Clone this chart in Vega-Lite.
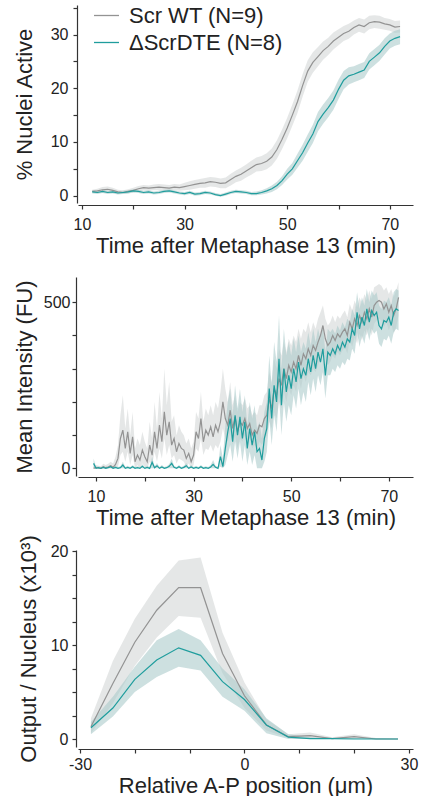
{
"$schema": "https://vega.github.io/schema/vega-lite/v6.json",
"padding": {"left": 13, "top": -1, "right": 5, "bottom": 0},
"spacing": 74,
"bounds": "flush",
"config": {
 "font": "Liberation Sans",
 "view": {"stroke": null},
 "axis": {"domainColor": "#333", "domainWidth": 1.2, "tickColor": "#333", "tickWidth": 1.2, "tickSize": 4, "labelFontSize": 16, "labelColor": "#222", "titleFontSize": 22, "titleFontWeight": "normal", "titleColor": "#222", "grid": false, "labelFlush": false, "labelOverlap": false, "labelFont": "Liberation Sans", "titleFont": "Liberation Sans"}
},
"resolve": {"scale": {"color": "independent"}, "legend": {"color": "independent"}},
"datasets": {
"p1": [
{"t":12,"g":"WT","m":0.8,"lo":0.5,"hi":1.1},{"t":13,"g":"WT","m":0.9,"lo":0.5,"hi":1.3},{"t":14,"g":"WT","m":1.1,"lo":0.6,"hi":1.6},{"t":15,"g":"WT","m":1.2,"lo":0.7,"hi":1.7},{"t":16,"g":"WT","m":1.0,"lo":0.5,"hi":1.5},{"t":17,"g":"WT","m":0.7,"lo":0.3,"hi":1.1},{"t":18,"g":"WT","m":0.6,"lo":0.3,"hi":1.0},{"t":19,"g":"WT","m":0.8,"lo":0.4,"hi":1.2},{"t":20,"g":"WT","m":1.0,"lo":0.6,"hi":1.5},{"t":21,"g":"WT","m":1.3,"lo":0.8,"hi":1.8},{"t":22,"g":"WT","m":1.5,"lo":1.0,"hi":2.0},{"t":23,"g":"WT","m":1.4,"lo":0.9,"hi":1.9},{"t":24,"g":"WT","m":1.5,"lo":1.0,"hi":2.1},{"t":25,"g":"WT","m":1.6,"lo":1.0,"hi":2.2},{"t":26,"g":"WT","m":1.5,"lo":0.9,"hi":2.1},{"t":27,"g":"WT","m":1.4,"lo":0.8,"hi":2.0},{"t":28,"g":"WT","m":1.6,"lo":1.0,"hi":2.2},{"t":29,"g":"WT","m":1.5,"lo":0.9,"hi":2.1},{"t":30,"g":"WT","m":1.7,"lo":1.0,"hi":2.4},{"t":31,"g":"WT","m":1.9,"lo":1.1,"hi":2.7},{"t":32,"g":"WT","m":2.1,"lo":1.3,"hi":2.9},{"t":33,"g":"WT","m":2.3,"lo":1.5,"hi":3.1},{"t":34,"g":"WT","m":2.4,"lo":1.5,"hi":3.3},{"t":35,"g":"WT","m":2.6,"lo":1.7,"hi":3.5},{"t":36,"g":"WT","m":2.5,"lo":1.6,"hi":3.4},{"t":37,"g":"WT","m":2.3,"lo":1.4,"hi":3.2},{"t":38,"g":"WT","m":2.4,"lo":1.4,"hi":3.4},{"t":39,"g":"WT","m":3.0,"lo":1.9,"hi":4.1},{"t":40,"g":"WT","m":3.6,"lo":2.5,"hi":4.7},{"t":41,"g":"WT","m":4.0,"lo":2.8,"hi":5.2},{"t":42,"g":"WT","m":4.6,"lo":3.4,"hi":5.8},{"t":43,"g":"WT","m":5.2,"lo":3.9,"hi":6.5},{"t":44,"g":"WT","m":5.8,"lo":4.5,"hi":7.1},{"t":45,"g":"WT","m":6.0,"lo":4.6,"hi":7.4},{"t":46,"g":"WT","m":6.4,"lo":4.9,"hi":7.9},{"t":47,"g":"WT","m":7.2,"lo":5.6,"hi":8.8},{"t":48,"g":"WT","m":8.6,"lo":6.9,"hi":10.3},{"t":49,"g":"WT","m":10.5,"lo":8.7,"hi":12.3},{"t":50,"g":"WT","m":12.6,"lo":10.7,"hi":14.5},{"t":51,"g":"WT","m":15.0,"lo":13.0,"hi":17.0},{"t":52,"g":"WT","m":17.5,"lo":15.4,"hi":19.6},{"t":53,"g":"WT","m":20.5,"lo":18.4,"hi":22.6},{"t":54,"g":"WT","m":23.2,"lo":21.2,"hi":25.2},{"t":55,"g":"WT","m":24.8,"lo":22.9,"hi":26.7},{"t":56,"g":"WT","m":25.9,"lo":24.1,"hi":27.7},{"t":57,"g":"WT","m":27.0,"lo":25.3,"hi":28.7},{"t":58,"g":"WT","m":27.8,"lo":26.2,"hi":29.4},{"t":59,"g":"WT","m":28.8,"lo":27.2,"hi":30.4},{"t":60,"g":"WT","m":29.5,"lo":28.0,"hi":31.0},{"t":61,"g":"WT","m":30.2,"lo":28.8,"hi":31.6},{"t":62,"g":"WT","m":30.6,"lo":29.2,"hi":32.0},{"t":63,"g":"WT","m":31.3,"lo":30.0,"hi":32.6},{"t":64,"g":"WT","m":31.8,"lo":30.5,"hi":33.1},{"t":65,"g":"WT","m":31.5,"lo":30.2,"hi":32.8},{"t":66,"g":"WT","m":32.2,"lo":31.0,"hi":33.5},{"t":67,"g":"WT","m":32.4,"lo":31.2,"hi":33.6},{"t":68,"g":"WT","m":32.3,"lo":31.1,"hi":33.5},{"t":69,"g":"WT","m":32.0,"lo":30.9,"hi":33.1},{"t":70,"g":"WT","m":31.8,"lo":30.7,"hi":32.9},{"t":71,"g":"WT","m":31.4,"lo":30.3,"hi":32.5},{"t":72,"g":"WT","m":31.5,"lo":30.4,"hi":32.6},
{"t":12,"g":"DTE","m":0.7,"lo":0.4,"hi":1.0},{"t":13,"g":"DTE","m":0.6,"lo":0.3,"hi":0.9},{"t":14,"g":"DTE","m":0.8,"lo":0.5,"hi":1.1},{"t":15,"g":"DTE","m":0.6,"lo":0.3,"hi":0.9},{"t":16,"g":"DTE","m":0.7,"lo":0.4,"hi":1.0},{"t":17,"g":"DTE","m":0.5,"lo":0.2,"hi":0.8},{"t":18,"g":"DTE","m":0.6,"lo":0.3,"hi":0.9},{"t":19,"g":"DTE","m":0.7,"lo":0.4,"hi":1.0},{"t":20,"g":"DTE","m":0.9,"lo":0.6,"hi":1.2},{"t":21,"g":"DTE","m":0.8,"lo":0.5,"hi":1.1},{"t":22,"g":"DTE","m":0.6,"lo":0.3,"hi":0.9},{"t":23,"g":"DTE","m":0.7,"lo":0.4,"hi":1.0},{"t":24,"g":"DTE","m":0.5,"lo":0.2,"hi":0.8},{"t":25,"g":"DTE","m":0.6,"lo":0.3,"hi":0.9},{"t":26,"g":"DTE","m":0.8,"lo":0.5,"hi":1.1},{"t":27,"g":"DTE","m":0.9,"lo":0.6,"hi":1.2},{"t":28,"g":"DTE","m":0.7,"lo":0.4,"hi":1.0},{"t":29,"g":"DTE","m":0.5,"lo":0.2,"hi":0.8},{"t":30,"g":"DTE","m":0.4,"lo":0.1,"hi":0.7},{"t":31,"g":"DTE","m":0.6,"lo":0.3,"hi":0.9},{"t":32,"g":"DTE","m":0.3,"lo":0.0,"hi":0.6},{"t":33,"g":"DTE","m":0.4,"lo":0.1,"hi":0.7},{"t":34,"g":"DTE","m":0.6,"lo":0.3,"hi":0.9},{"t":35,"g":"DTE","m":0.5,"lo":0.2,"hi":0.8},{"t":36,"g":"DTE","m":0.2,"lo":0.0,"hi":0.5},{"t":37,"g":"DTE","m":0.0,"lo":-0.2,"hi":0.3},{"t":38,"g":"DTE","m":0.3,"lo":0.0,"hi":0.6},{"t":39,"g":"DTE","m":0.6,"lo":0.3,"hi":0.9},{"t":40,"g":"DTE","m":0.8,"lo":0.5,"hi":1.1},{"t":41,"g":"DTE","m":0.7,"lo":0.4,"hi":1.0},{"t":42,"g":"DTE","m":0.6,"lo":0.3,"hi":0.9},{"t":43,"g":"DTE","m":0.4,"lo":0.1,"hi":0.7},{"t":44,"g":"DTE","m":0.4,"lo":0.1,"hi":0.8},{"t":45,"g":"DTE","m":0.6,"lo":0.2,"hi":1.0},{"t":46,"g":"DTE","m":0.9,"lo":0.4,"hi":1.4},{"t":47,"g":"DTE","m":1.3,"lo":0.7,"hi":1.9},{"t":48,"g":"DTE","m":1.9,"lo":1.2,"hi":2.6},{"t":49,"g":"DTE","m":2.8,"lo":2.0,"hi":3.6},{"t":50,"g":"DTE","m":4.0,"lo":3.0,"hi":5.0},{"t":51,"g":"DTE","m":5.0,"lo":3.9,"hi":6.1},{"t":52,"g":"DTE","m":6.5,"lo":5.2,"hi":7.8},{"t":53,"g":"DTE","m":8.0,"lo":6.5,"hi":9.5},{"t":54,"g":"DTE","m":9.8,"lo":8.2,"hi":11.4},{"t":55,"g":"DTE","m":11.5,"lo":9.8,"hi":13.2},{"t":56,"g":"DTE","m":13.8,"lo":12.0,"hi":15.6},{"t":57,"g":"DTE","m":15.2,"lo":13.4,"hi":17.0},{"t":58,"g":"DTE","m":16.4,"lo":14.6,"hi":18.2},{"t":59,"g":"DTE","m":17.8,"lo":16.0,"hi":19.6},{"t":60,"g":"DTE","m":19.8,"lo":18.0,"hi":21.6},{"t":61,"g":"DTE","m":21.5,"lo":19.8,"hi":23.2},{"t":62,"g":"DTE","m":22.3,"lo":20.7,"hi":23.9},{"t":63,"g":"DTE","m":22.6,"lo":21.1,"hi":24.1},{"t":64,"g":"DTE","m":23.0,"lo":21.5,"hi":24.5},{"t":65,"g":"DTE","m":23.4,"lo":21.9,"hi":24.9},{"t":66,"g":"DTE","m":25.0,"lo":23.5,"hi":26.5},{"t":67,"g":"DTE","m":25.8,"lo":24.3,"hi":27.3},{"t":68,"g":"DTE","m":26.6,"lo":25.1,"hi":28.1},{"t":69,"g":"DTE","m":27.8,"lo":26.3,"hi":29.3},{"t":70,"g":"DTE","m":28.8,"lo":27.4,"hi":30.2},{"t":71,"g":"DTE","m":29.3,"lo":27.9,"hi":30.7},{"t":72,"g":"DTE","m":29.6,"lo":28.2,"hi":31.0}
],
"p2": [
{"t":9.5,"g":"WT","m":0,"lo":0,"hi":8},{"t":10,"g":"WT","m":3,"lo":0,"hi":10},{"t":10.5,"g":"WT","m":1,"lo":0,"hi":8},{"t":11,"g":"WT","m":0,"lo":0,"hi":6},{"t":11.5,"g":"WT","m":5,"lo":0,"hi":14},{"t":12,"g":"WT","m":2,"lo":0,"hi":10},{"t":12.5,"g":"WT","m":4,"lo":0,"hi":14},{"t":13,"g":"WT","m":8,"lo":0,"hi":20},{"t":13.5,"g":"WT","m":3,"lo":0,"hi":15},{"t":14,"g":"WT","m":12,"lo":0,"hi":35},{"t":14.5,"g":"WT","m":30,"lo":5,"hi":70},{"t":15,"g":"WT","m":90,"lo":40,"hi":160},{"t":15.5,"g":"WT","m":115,"lo":50,"hi":220},{"t":16,"g":"WT","m":60,"lo":20,"hi":120},{"t":16.5,"g":"WT","m":110,"lo":50,"hi":180},{"t":17,"g":"WT","m":45,"lo":10,"hi":100},{"t":17.5,"g":"WT","m":95,"lo":40,"hi":170},{"t":18,"g":"WT","m":20,"lo":0,"hi":60},{"t":18.5,"g":"WT","m":40,"lo":10,"hi":90},{"t":19,"g":"WT","m":25,"lo":0,"hi":70},{"t":19.5,"g":"WT","m":55,"lo":15,"hi":110},{"t":20,"g":"WT","m":35,"lo":5,"hi":80},{"t":20.5,"g":"WT","m":20,"lo":0,"hi":60},{"t":21,"g":"WT","m":70,"lo":20,"hi":140},{"t":21.5,"g":"WT","m":40,"lo":10,"hi":90},{"t":22,"g":"WT","m":110,"lo":50,"hi":200},{"t":22.5,"g":"WT","m":60,"lo":20,"hi":120},{"t":23,"g":"WT","m":130,"lo":60,"hi":230},{"t":23.5,"g":"WT","m":80,"lo":30,"hi":150},{"t":24,"g":"WT","m":170,"lo":90,"hi":300},{"t":24.5,"g":"WT","m":100,"lo":40,"hi":190},{"t":25,"g":"WT","m":140,"lo":70,"hi":260},{"t":25.5,"g":"WT","m":70,"lo":30,"hi":140},{"t":26,"g":"WT","m":90,"lo":40,"hi":160},{"t":26.5,"g":"WT","m":50,"lo":15,"hi":100},{"t":27,"g":"WT","m":75,"lo":30,"hi":130},{"t":27.5,"g":"WT","m":60,"lo":25,"hi":110},{"t":28,"g":"WT","m":55,"lo":20,"hi":100},{"t":28.5,"g":"WT","m":30,"lo":5,"hi":75},{"t":29,"g":"WT","m":45,"lo":15,"hi":90},{"t":29.5,"g":"WT","m":20,"lo":0,"hi":60},{"t":30,"g":"WT","m":40,"lo":10,"hi":80},{"t":30.5,"g":"WT","m":110,"lo":60,"hi":170},{"t":31,"g":"WT","m":90,"lo":50,"hi":150},{"t":31.5,"g":"WT","m":150,"lo":90,"hi":230},{"t":32,"g":"WT","m":80,"lo":40,"hi":140},{"t":32.5,"g":"WT","m":115,"lo":60,"hi":180},{"t":33,"g":"WT","m":100,"lo":55,"hi":160},{"t":33.5,"g":"WT","m":125,"lo":70,"hi":190},{"t":34,"g":"WT","m":95,"lo":50,"hi":160},{"t":34.5,"g":"WT","m":130,"lo":70,"hi":200},{"t":35,"g":"WT","m":110,"lo":60,"hi":180},{"t":35.5,"g":"WT","m":140,"lo":80,"hi":230},{"t":36,"g":"WT","m":200,"lo":120,"hi":300},{"t":36.5,"g":"WT","m":150,"lo":90,"hi":240},{"t":37,"g":"WT","m":130,"lo":80,"hi":200},{"t":37.5,"g":"WT","m":175,"lo":110,"hi":260},{"t":38,"g":"WT","m":120,"lo":70,"hi":190},{"t":38.5,"g":"WT","m":155,"lo":100,"hi":220},{"t":39,"g":"WT","m":110,"lo":60,"hi":170},{"t":39.5,"g":"WT","m":140,"lo":90,"hi":200},{"t":40,"g":"WT","m":130,"lo":80,"hi":190},{"t":40.5,"g":"WT","m":150,"lo":100,"hi":210},{"t":41,"g":"WT","m":120,"lo":70,"hi":180},{"t":41.5,"g":"WT","m":135,"lo":90,"hi":190},{"t":42,"g":"WT","m":100,"lo":60,"hi":160},{"t":42.5,"g":"WT","m":115,"lo":70,"hi":170},{"t":43,"g":"WT","m":105,"lo":60,"hi":160},{"t":43.5,"g":"WT","m":130,"lo":80,"hi":190},{"t":44,"g":"WT","m":125,"lo":70,"hi":190},{"t":44.5,"g":"WT","m":150,"lo":90,"hi":220},{"t":45,"g":"WT","m":160,"lo":100,"hi":230},{"t":45.5,"g":"WT","m":210,"lo":140,"hi":290},{"t":46,"g":"WT","m":180,"lo":120,"hi":260},{"t":46.5,"g":"WT","m":240,"lo":170,"hi":330},{"t":47,"g":"WT","m":220,"lo":150,"hi":300},{"t":47.5,"g":"WT","m":270,"lo":200,"hi":360},{"t":48,"g":"WT","m":250,"lo":180,"hi":340},{"t":48.5,"g":"WT","m":300,"lo":230,"hi":380},{"t":49,"g":"WT","m":270,"lo":200,"hi":350},{"t":49.5,"g":"WT","m":310,"lo":240,"hi":390},{"t":50,"g":"WT","m":290,"lo":220,"hi":370},{"t":50.5,"g":"WT","m":320,"lo":250,"hi":400},{"t":51,"g":"WT","m":300,"lo":230,"hi":380},{"t":51.5,"g":"WT","m":340,"lo":270,"hi":420},{"t":52,"g":"WT","m":310,"lo":240,"hi":390},{"t":52.5,"g":"WT","m":345,"lo":280,"hi":420},{"t":53,"g":"WT","m":330,"lo":260,"hi":410},{"t":53.5,"g":"WT","m":360,"lo":290,"hi":440},{"t":54,"g":"WT","m":340,"lo":280,"hi":410},{"t":54.5,"g":"WT","m":370,"lo":300,"hi":440},{"t":55,"g":"WT","m":355,"lo":290,"hi":420},{"t":55.5,"g":"WT","m":380,"lo":310,"hi":450},{"t":56,"g":"WT","m":400,"lo":330,"hi":470},{"t":56.5,"g":"WT","m":430,"lo":360,"hi":490},{"t":57,"g":"WT","m":390,"lo":330,"hi":450},{"t":57.5,"g":"WT","m":370,"lo":310,"hi":430},{"t":58,"g":"WT","m":380,"lo":320,"hi":440},{"t":58.5,"g":"WT","m":400,"lo":340,"hi":460},{"t":59,"g":"WT","m":385,"lo":330,"hi":440},{"t":59.5,"g":"WT","m":405,"lo":350,"hi":460},{"t":60,"g":"WT","m":395,"lo":340,"hi":450},{"t":60.5,"g":"WT","m":410,"lo":355,"hi":465},{"t":61,"g":"WT","m":420,"lo":365,"hi":475},{"t":61.5,"g":"WT","m":400,"lo":345,"hi":455},{"t":62,"g":"WT","m":440,"lo":385,"hi":495},{"t":62.5,"g":"WT","m":420,"lo":365,"hi":475},{"t":63,"g":"WT","m":450,"lo":395,"hi":505},{"t":63.5,"g":"WT","m":430,"lo":375,"hi":485},{"t":64,"g":"WT","m":460,"lo":405,"hi":515},{"t":64.5,"g":"WT","m":440,"lo":385,"hi":495},{"t":65,"g":"WT","m":470,"lo":415,"hi":525},{"t":65.5,"g":"WT","m":450,"lo":400,"hi":505},{"t":66,"g":"WT","m":480,"lo":425,"hi":535},{"t":66.5,"g":"WT","m":455,"lo":400,"hi":510},{"t":67,"g":"WT","m":490,"lo":435,"hi":545},{"t":67.5,"g":"WT","m":500,"lo":445,"hi":550},{"t":68,"g":"WT","m":505,"lo":450,"hi":555},{"t":68.5,"g":"WT","m":500,"lo":445,"hi":550},{"t":69,"g":"WT","m":480,"lo":425,"hi":535},{"t":69.5,"g":"WT","m":495,"lo":440,"hi":545},{"t":70,"g":"WT","m":470,"lo":415,"hi":525},{"t":70.5,"g":"WT","m":490,"lo":435,"hi":540},{"t":71,"g":"WT","m":460,"lo":405,"hi":515},{"t":71.5,"g":"WT","m":480,"lo":425,"hi":535},{"t":72,"g":"WT","m":515,"lo":460,"hi":560},
{"t":9.5,"g":"DTE","m":15,"lo":0,"hi":30},{"t":10,"g":"DTE","m":0,"lo":0,"hi":5},{"t":10.5,"g":"DTE","m":2,"lo":0,"hi":6},{"t":11,"g":"DTE","m":0,"lo":0,"hi":4},{"t":11.5,"g":"DTE","m":3,"lo":0,"hi":8},{"t":12,"g":"DTE","m":0,"lo":0,"hi":4},{"t":12.5,"g":"DTE","m":2,"lo":0,"hi":6},{"t":13,"g":"DTE","m":5,"lo":0,"hi":10},{"t":13.5,"g":"DTE","m":0,"lo":0,"hi":4},{"t":14,"g":"DTE","m":3,"lo":0,"hi":8},{"t":14.5,"g":"DTE","m":0,"lo":0,"hi":4},{"t":15,"g":"DTE","m":2,"lo":0,"hi":6},{"t":15.5,"g":"DTE","m":10,"lo":0,"hi":20},{"t":16,"g":"DTE","m":0,"lo":0,"hi":4},{"t":16.5,"g":"DTE","m":3,"lo":0,"hi":8},{"t":17,"g":"DTE","m":0,"lo":0,"hi":4},{"t":17.5,"g":"DTE","m":5,"lo":0,"hi":10},{"t":18,"g":"DTE","m":0,"lo":0,"hi":4},{"t":18.5,"g":"DTE","m":2,"lo":0,"hi":6},{"t":19,"g":"DTE","m":0,"lo":0,"hi":4},{"t":19.5,"g":"DTE","m":6,"lo":0,"hi":12},{"t":20,"g":"DTE","m":0,"lo":0,"hi":4},{"t":20.5,"g":"DTE","m":3,"lo":0,"hi":8},{"t":21,"g":"DTE","m":0,"lo":0,"hi":4},{"t":21.5,"g":"DTE","m":18,"lo":0,"hi":35},{"t":22,"g":"DTE","m":2,"lo":0,"hi":6},{"t":22.5,"g":"DTE","m":8,"lo":0,"hi":16},{"t":23,"g":"DTE","m":0,"lo":0,"hi":4},{"t":23.5,"g":"DTE","m":4,"lo":0,"hi":10},{"t":24,"g":"DTE","m":0,"lo":0,"hi":4},{"t":24.5,"g":"DTE","m":2,"lo":0,"hi":6},{"t":25,"g":"DTE","m":6,"lo":0,"hi":12},{"t":25.5,"g":"DTE","m":15,"lo":0,"hi":30},{"t":26,"g":"DTE","m":3,"lo":0,"hi":8},{"t":26.5,"g":"DTE","m":0,"lo":0,"hi":4},{"t":27,"g":"DTE","m":5,"lo":0,"hi":10},{"t":27.5,"g":"DTE","m":0,"lo":0,"hi":4},{"t":28,"g":"DTE","m":3,"lo":0,"hi":8},{"t":28.5,"g":"DTE","m":8,"lo":0,"hi":16},{"t":29,"g":"DTE","m":0,"lo":0,"hi":4},{"t":29.5,"g":"DTE","m":4,"lo":0,"hi":10},{"t":30,"g":"DTE","m":0,"lo":0,"hi":4},{"t":30.5,"g":"DTE","m":3,"lo":0,"hi":8},{"t":31,"g":"DTE","m":0,"lo":0,"hi":4},{"t":31.5,"g":"DTE","m":5,"lo":0,"hi":10},{"t":32,"g":"DTE","m":0,"lo":0,"hi":4},{"t":32.5,"g":"DTE","m":2,"lo":0,"hi":6},{"t":33,"g":"DTE","m":0,"lo":0,"hi":4},{"t":33.5,"g":"DTE","m":4,"lo":0,"hi":10},{"t":34,"g":"DTE","m":12,"lo":0,"hi":25},{"t":34.5,"g":"DTE","m":3,"lo":0,"hi":8},{"t":35,"g":"DTE","m":0,"lo":0,"hi":5},{"t":35.5,"g":"DTE","m":35,"lo":5,"hi":70},{"t":36,"g":"DTE","m":5,"lo":0,"hi":30},{"t":36.5,"g":"DTE","m":60,"lo":10,"hi":130},{"t":37,"g":"DTE","m":110,"lo":40,"hi":200},{"t":37.5,"g":"DTE","m":150,"lo":70,"hi":240},{"t":38,"g":"DTE","m":80,"lo":20,"hi":160},{"t":38.5,"g":"DTE","m":160,"lo":80,"hi":250},{"t":39,"g":"DTE","m":100,"lo":30,"hi":180},{"t":39.5,"g":"DTE","m":155,"lo":80,"hi":240},{"t":40,"g":"DTE","m":90,"lo":20,"hi":170},{"t":40.5,"g":"DTE","m":140,"lo":70,"hi":220},{"t":41,"g":"DTE","m":60,"lo":10,"hi":130},{"t":41.5,"g":"DTE","m":120,"lo":50,"hi":200},{"t":42,"g":"DTE","m":70,"lo":10,"hi":150},{"t":42.5,"g":"DTE","m":110,"lo":40,"hi":190},{"t":43,"g":"DTE","m":50,"lo":0,"hi":120},{"t":43.5,"g":"DTE","m":60,"lo":0,"hi":140},{"t":44,"g":"DTE","m":25,"lo":0,"hi":90},{"t":44.5,"g":"DTE","m":90,"lo":20,"hi":170},{"t":45,"g":"DTE","m":120,"lo":50,"hi":200},{"t":45.5,"g":"DTE","m":240,"lo":150,"hi":340},{"t":46,"g":"DTE","m":150,"lo":70,"hi":250},{"t":46.5,"g":"DTE","m":250,"lo":160,"hi":380},{"t":47,"g":"DTE","m":200,"lo":110,"hi":320},{"t":47.5,"g":"DTE","m":330,"lo":220,"hi":460},{"t":48,"g":"DTE","m":190,"lo":100,"hi":300},{"t":48.5,"g":"DTE","m":300,"lo":200,"hi":420},{"t":49,"g":"DTE","m":230,"lo":140,"hi":340},{"t":49.5,"g":"DTE","m":280,"lo":190,"hi":380},{"t":50,"g":"DTE","m":240,"lo":160,"hi":340},{"t":50.5,"g":"DTE","m":300,"lo":220,"hi":390},{"t":51,"g":"DTE","m":260,"lo":180,"hi":350},{"t":51.5,"g":"DTE","m":320,"lo":240,"hi":400},{"t":52,"g":"DTE","m":270,"lo":190,"hi":350},{"t":52.5,"g":"DTE","m":300,"lo":230,"hi":380},{"t":53,"g":"DTE","m":280,"lo":200,"hi":360},{"t":53.5,"g":"DTE","m":330,"lo":260,"hi":410},{"t":54,"g":"DTE","m":290,"lo":220,"hi":370},{"t":54.5,"g":"DTE","m":340,"lo":270,"hi":420},{"t":55,"g":"DTE","m":300,"lo":230,"hi":380},{"t":55.5,"g":"DTE","m":350,"lo":280,"hi":420},{"t":56,"g":"DTE","m":320,"lo":250,"hi":390},{"t":56.5,"g":"DTE","m":360,"lo":290,"hi":430},{"t":57,"g":"DTE","m":280,"lo":210,"hi":350},{"t":57.5,"g":"DTE","m":350,"lo":280,"hi":420},{"t":58,"g":"DTE","m":340,"lo":280,"hi":410},{"t":58.5,"g":"DTE","m":360,"lo":300,"hi":420},{"t":59,"g":"DTE","m":345,"lo":290,"hi":405},{"t":59.5,"g":"DTE","m":370,"lo":310,"hi":430},{"t":60,"g":"DTE","m":355,"lo":300,"hi":415},{"t":60.5,"g":"DTE","m":380,"lo":320,"hi":440},{"t":61,"g":"DTE","m":365,"lo":310,"hi":425},{"t":61.5,"g":"DTE","m":390,"lo":330,"hi":450},{"t":62,"g":"DTE","m":380,"lo":325,"hi":440},{"t":62.5,"g":"DTE","m":420,"lo":360,"hi":480},{"t":63,"g":"DTE","m":400,"lo":345,"hi":460},{"t":63.5,"g":"DTE","m":470,"lo":410,"hi":530},{"t":64,"g":"DTE","m":420,"lo":365,"hi":480},{"t":64.5,"g":"DTE","m":455,"lo":400,"hi":515},{"t":65,"g":"DTE","m":430,"lo":375,"hi":490},{"t":65.5,"g":"DTE","m":480,"lo":420,"hi":540},{"t":66,"g":"DTE","m":440,"lo":385,"hi":500},{"t":66.5,"g":"DTE","m":475,"lo":420,"hi":535},{"t":67,"g":"DTE","m":460,"lo":405,"hi":520},{"t":67.5,"g":"DTE","m":470,"lo":415,"hi":530},{"t":68,"g":"DTE","m":430,"lo":375,"hi":490},{"t":68.5,"g":"DTE","m":420,"lo":365,"hi":480},{"t":69,"g":"DTE","m":445,"lo":390,"hi":505},{"t":69.5,"g":"DTE","m":440,"lo":385,"hi":500},{"t":70,"g":"DTE","m":455,"lo":400,"hi":515},{"t":70.5,"g":"DTE","m":430,"lo":375,"hi":490},{"t":71,"g":"DTE","m":470,"lo":410,"hi":530},{"t":71.5,"g":"DTE","m":480,"lo":420,"hi":540},{"t":72,"g":"DTE","m":475,"lo":415,"hi":535}
],
"p3": [
{"x":-28,"g":"WT","m":1.3,"lo":0.6,"hi":2.2},{"x":-24,"g":"WT","m":5.9,"lo":3.8,"hi":8.3},{"x":-20,"g":"WT","m":10.3,"lo":7.8,"hi":12.8},{"x":-16,"g":"WT","m":13.7,"lo":10.8,"hi":16.3},{"x":-12,"g":"WT","m":16.1,"lo":13.1,"hi":19.0},{"x":-8,"g":"WT","m":16.1,"lo":12.9,"hi":19.3},{"x":-4,"g":"WT","m":9.1,"lo":7.0,"hi":11.3},{"x":0,"g":"WT","m":4.6,"lo":3.3,"hi":6.0},{"x":4,"g":"WT","m":1.5,"lo":0.9,"hi":2.1},{"x":8,"g":"WT","m":0.25,"lo":0.1,"hi":0.5},{"x":12,"g":"WT","m":0.35,"lo":0.1,"hi":0.7},{"x":16,"g":"WT","m":0.05,"lo":0,"hi":0.2},{"x":20,"g":"WT","m":0.25,"lo":0,"hi":0.5},{"x":24,"g":"WT","m":0,"lo":0,"hi":0.1},{"x":28,"g":"WT","m":0,"lo":0,"hi":0},
{"x":-28,"g":"DTE","m":1.2,"lo":0.5,"hi":1.8},{"x":-24,"g":"DTE","m":3.3,"lo":2.4,"hi":4.5},{"x":-20,"g":"DTE","m":6.35,"lo":5.0,"hi":7.7},{"x":-16,"g":"DTE","m":8.4,"lo":6.6,"hi":10.5},{"x":-12,"g":"DTE","m":9.7,"lo":7.7,"hi":11.7},{"x":-8,"g":"DTE","m":8.9,"lo":7.3,"hi":10.5},{"x":-4,"g":"DTE","m":6.1,"lo":4.5,"hi":7.5},{"x":0,"g":"DTE","m":4.2,"lo":3.0,"hi":5.3},{"x":4,"g":"DTE","m":1.5,"lo":0.6,"hi":2.2},{"x":8,"g":"DTE","m":0.2,"lo":0,"hi":0.5},{"x":12,"g":"DTE","m":0.05,"lo":0,"hi":0.2},{"x":16,"g":"DTE","m":0.05,"lo":0,"hi":0.1},{"x":20,"g":"DTE","m":0,"lo":0,"hi":0.1},{"x":24,"g":"DTE","m":0,"lo":0,"hi":0.05},{"x":28,"g":"DTE","m":0,"lo":0,"hi":0}
]
},
"vconcat": [
{
 "width": 335, "height": 198,
 "data": {"name": "p1"},
 "encoding": {
  "x": {"field": "t", "type": "quantitative", "scale": {"domain": [9.22, 74.52], "nice": false, "zero": false},
    "axis": {"title": "Time after Metaphase 13 (min)", "values": [10,20,30,40,50,60,70], "labelExpr": "datum.value == 10 || datum.value == 30 || datum.value == 50 || datum.value == 70 ? datum.label : ''", "offset": 2, "labelPadding": 7, "titlePadding": 3}},
  "y": {"type": "quantitative", "scale": {"domain": [-1.36, 35.5], "nice": false, "zero": false},
    "axis": {"title": "% Nuclei Active", "values": [0,5,10,15,20,25,30,35], "labelExpr": "datum.value == 0 || datum.value == 10 || datum.value == 20 || datum.value == 30 ? datum.label : ''", "offset": 1, "labelPadding": 5, "titlePadding": 14}}
 },
 "layer": [
  {"transform": [{"filter": "datum.g == 'WT'"}], "mark": {"type": "area", "color": "#d4d7d7", "opacity": 0.6}, "encoding": {"y": {"field": "lo"}, "y2": {"field": "hi"}}},
  {"transform": [{"filter": "datum.g == 'DTE'"}], "mark": {"type": "area", "color": "#abcbcb", "opacity": 0.6}, "encoding": {"y": {"field": "lo"}, "y2": {"field": "hi"}}},
  {"mark": {"type": "line", "strokeWidth": 1.2},
   "encoding": {
    "y": {"field": "m"},
    "color": {"field": "g", "type": "nominal", "scale": {"domain": ["WT","DTE"], "range": ["#939393","#1f9d9d"]},
      "legend": {"orient": "none", "legendX": 15, "legendY": -3, "title": null, "symbolType": "stroke", "symbolSize": 625, "symbolStrokeWidth": 1.3, "labelFontSize": 22, "labelColor": "#222", "labelFont": "Liberation Sans", "labelOffset": 9, "rowPadding": 2, "padding": 0,
       "labelExpr": "datum.label == 'WT' ? 'Scr WT (N=9)' : 'ΔScrDTE (N=8)'"}}
   }}
 ]
},
{
 "width": 335, "height": 199,
 "data": {"name": "p2"},
 "encoding": {
  "x": {"field": "t", "type": "quantitative", "scale": {"domain": [6.31, 74.96], "nice": false, "zero": false},
    "axis": {"title": "Time after Metaphase 13 (min)", "values": [10,20,30,40,50,60,70], "labelExpr": "datum.value == 10 || datum.value == 30 || datum.value == 50 || datum.value == 70 ? datum.label : ''", "offset": 1, "labelPadding": 7, "titlePadding": 3}},
  "y": {"type": "quantitative", "scale": {"domain": [-23, 576], "nice": false, "zero": false},
    "axis": {"title": "Mean Intensity (FU)", "values": [0,100,200,300,400,500], "labelExpr": "datum.value == 0 || datum.value == 500 ? datum.label : ''", "offset": 2, "labelPadding": 2, "titlePadding": 7}}
 },
 "layer": [
  {"transform": [{"filter": "datum.g == 'WT'"}], "mark": {"type": "area", "color": "#d4d7d7", "opacity": 0.6}, "encoding": {"y": {"field": "lo"}, "y2": {"field": "hi"}}},
  {"transform": [{"filter": "datum.g == 'DTE'"}], "mark": {"type": "area", "color": "#abcbcb", "opacity": 0.6}, "encoding": {"y": {"field": "lo"}, "y2": {"field": "hi"}}},
  {"mark": {"type": "line", "strokeWidth": 1.2},
   "encoding": {
    "y": {"field": "m"},
    "color": {"field": "g", "type": "nominal", "scale": {"domain": ["WT","DTE"], "range": ["#939393","#1f9d9d"]}, "legend": null}
   }}
 ]
},
{
 "width": 335, "height": 197,
 "data": {"name": "p3"},
 "encoding": {
  "x": {"field": "x", "type": "quantitative", "scale": {"domain": [-30.36, 30.74], "nice": false, "zero": false},
    "axis": {"title": "Relative A-P position (μm)", "values": [-30,-20,-10,0,10,20,30], "labelExpr": "datum.value == -30 ? '-30' : (datum.value == 0 ? '0' : (datum.value == 30 ? '30' : ''))", "offset": 2, "labelPadding": 3, "titlePadding": 3}},
  "y": {"type": "quantitative", "scale": {"domain": [-0.85, 20.11], "nice": false, "zero": false},
    "axis": {"title": "Output / Nucleus (x10³)", "values": [0,2.5,5,7.5,10,12.5,15,17.5,20], "labelExpr": "datum.value == 0 || datum.value == 10 || datum.value == 20 ? datum.label : ''", "offset": 2, "labelPadding": 4, "titlePadding": 10}}
 },
 "layer": [
  {"transform": [{"filter": "datum.g == 'WT'"}], "mark": {"type": "area", "color": "#d4d7d7", "opacity": 0.6}, "encoding": {"y": {"field": "lo"}, "y2": {"field": "hi"}}},
  {"transform": [{"filter": "datum.g == 'DTE'"}], "mark": {"type": "area", "color": "#abcbcb", "opacity": 0.6}, "encoding": {"y": {"field": "lo"}, "y2": {"field": "hi"}}},
  {"mark": {"type": "line", "strokeWidth": 1.2},
   "encoding": {
    "y": {"field": "m"},
    "color": {"field": "g", "type": "nominal", "scale": {"domain": ["WT","DTE"], "range": ["#939393","#1f9d9d"]}, "legend": null}
   }}
 ]
}
]
}
